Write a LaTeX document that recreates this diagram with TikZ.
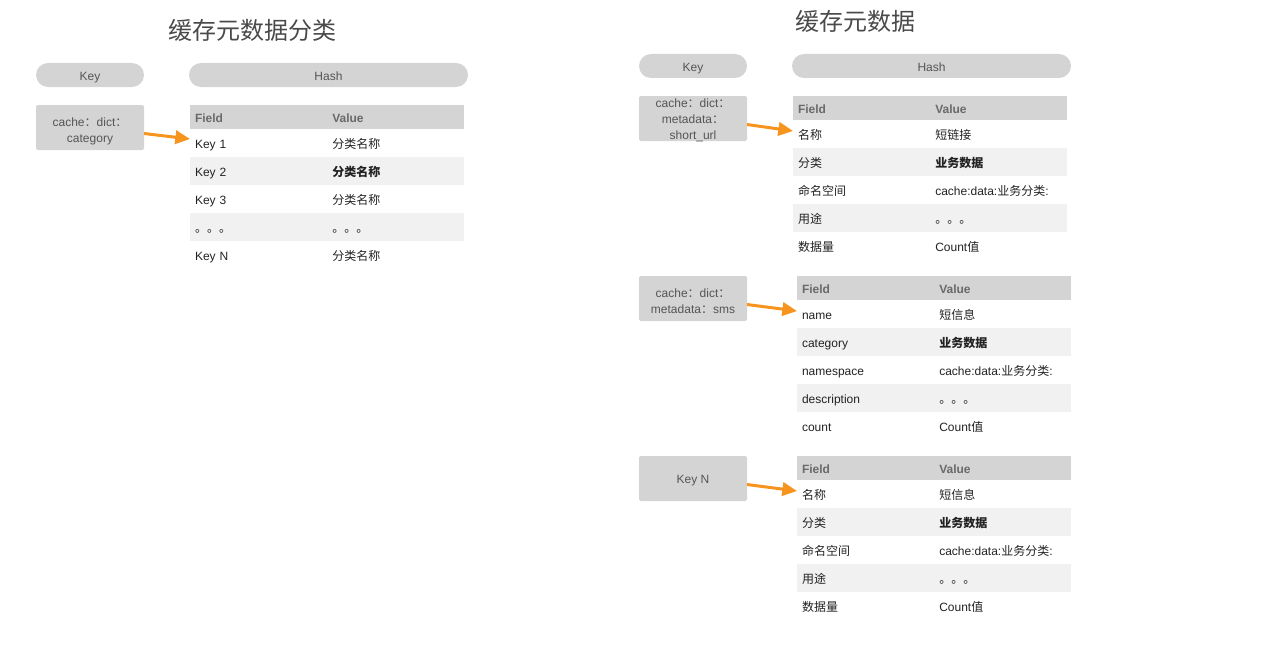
\documentclass[tikz,border=0pt]{standalone}
\usepackage{fontspec}
\setmainfont{Liberation Sans}
\newfontfamily\cjk{Noto Sans CJK SC}
\usetikzlibrary{positioning,arrows.meta,calc}

\begin{document}
\begin{tikzpicture}[x=0.75pt, y=-0.75pt, font=\fontsize{9}{12}\selectfont,
  >={Triangle[length=11pt, width=10pt]},
  title/.style={font=\cjk\fontsize{18}{22}\selectfont, text=ttltxt, inner sep=0pt},
  pill/.style={fill=band, rounded corners=9pt, minimum height=18pt, inner sep=0pt, outer sep=0pt, text=keytxt, anchor=north west, text height=9pt, text depth=1pt},
  keybox/.style={fill=band, rounded corners=1.5pt, minimum width=81pt, minimum height=33.75pt, inner sep=0pt, outer sep=0pt, align=center, text=keytxt, anchor=north west, text height=24pt, text depth=2pt},
  cell/.style={text width=198pt, inner xsep=3.75pt, inner ysep=0pt, outer sep=0pt, align=left, text height=9.5pt, text depth=1pt},
  hdr/.style={cell, fill=band, minimum height=18pt, text=hdrtxt, font=\fontsize{9}{12}\selectfont\bfseries, anchor=north west},
  row/.style={cell, minimum height=21pt, text=body},
  alt/.style={row, fill=light},
  val/.style={anchor=west, inner sep=0pt, text=body, text height=9.5pt, text depth=1pt},
  hval/.style={val, text=hdrtxt, font=\fontsize{9}{12}\selectfont\bfseries},
  arr/.style={->, draw=orng, line width=2.25pt},
]
\definecolor{band}{HTML}{D4D4D4}
\definecolor{light}{HTML}{F1F1F1}
\definecolor{keytxt}{HTML}{555555}
\definecolor{hdrtxt}{HTML}{6A6A6A}
\definecolor{body}{HTML}{222222}
\definecolor{orng}{HTML}{F7941D}
\definecolor{ttltxt}{HTML}{4A4A4A}
\useasboundingbox (0,0) rectangle (1280,660);

% ---------------- 缓存元数据分类 ----------------
\node[title] (ttl1) at (252,30) {缓存元数据分类};
\node[pill, minimum width=81pt]     (key1)  at (36,63)  {Key};
\node[pill, minimum width=209.25pt] (hash1) at (189,63) {Hash};
\node[keybox] (kb1) at (36,105) {cache{\cjk ：}dict{\cjk ：}\\category};
\node[hdr] (t1h) at (190,105) {Field};
\node[hval] (t1hv) at ($(t1h.west)+(142,0)$) {Value};
\node[row, below=0pt of t1h]  (t1r1) {Key 1};
\node[val] (t1v1) at ($(t1r1.west)+(142,0)$) {\cjk 分类名称};
\node[alt, below=0pt of t1r1] (t1r2) {Key 2};
\node[val] (t1v2) at ($(t1r2.west)+(142,0)$) {\cjk\bfseries 分类名称};
\node[row, below=0pt of t1r2] (t1r3) {Key 3};
\node[val] (t1v3) at ($(t1r3.west)+(142,0)$) {\cjk 分类名称};
\node[alt, below=0pt of t1r3] (t1r4) {\cjk 。。。};
\node[val] (t1v4) at ($(t1r4.west)+(142,0)$) {\cjk 。。。};
\node[row, below=0pt of t1r4] (t1r5) {Key N};
\node[val] (t1v5) at ($(t1r5.west)+(142,0)$) {\cjk 分类名称};
\draw[arr] ($(kb1.east)+(0,6)$) -- ($(t1r1.west)+(0,-4)$);

% ---------------- 缓存元数据 ----------------
\node[title] (ttl2) at (855,21) {缓存元数据};
\node[pill, minimum width=81pt]     (key2)  at (639,54) {Key};
\node[pill, minimum width=209.25pt] (hash2) at (792,54) {Hash};

% short_url
\node[keybox, text height=32pt, text depth=-4pt] (kb2) at (639,96) {cache{\cjk ：}dict{\cjk ：}\\metadata{\cjk ：}\\short\_url};
\node[hdr] (t2h) at (793,96) {Field};
\node[hval] (t2hv) at ($(t2h.west)+(142,0)$) {Value};
\node[row, below=0pt of t2h]  (t2r1) {\cjk 名称};
\node[val] (t2v1) at ($(t2r1.west)+(142,0)$) {\cjk 短链接};
\node[alt, below=0pt of t2r1] (t2r2) {\cjk 分类};
\node[val] (t2v2) at ($(t2r2.west)+(142,0)$) {\cjk\bfseries 业务数据};
\node[row, below=0pt of t2r2] (t2r3) {\cjk 命名空间};
\node[val] (t2v3) at ($(t2r3.west)+(142,0)$) {cache:data:{\cjk 业务分类}:};
\node[alt, below=0pt of t2r3] (t2r4) {\cjk 用途};
\node[val] (t2v4) at ($(t2r4.west)+(142,0)$) {\cjk 。。。};
\node[row, below=0pt of t2r4] (t2r5) {\cjk 数据量};
\node[val] (t2v5) at ($(t2r5.west)+(142,0)$) {Count{\cjk 值}};
\draw[arr] ($(kb2.east)+(0,6)$) -- ($(t2r1.west)+(0,-3)$);

% sms
\node[keybox] (kb3) at (639,276) {cache{\cjk ：}dict{\cjk ：}\\metadata{\cjk ：}sms};
\node[hdr] (t3h) at (797,276) {Field};
\node[hval] (t3hv) at ($(t3h.west)+(142,0)$) {Value};
\node[row, below=0pt of t3h]  (t3r1) {name};
\node[val] (t3v1) at ($(t3r1.west)+(142,0)$) {\cjk 短信息};
\node[alt, below=0pt of t3r1] (t3r2) {category};
\node[val] (t3v2) at ($(t3r2.west)+(142,0)$) {\cjk\bfseries 业务数据};
\node[row, below=0pt of t3r2] (t3r3) {namespace};
\node[val] (t3v3) at ($(t3r3.west)+(142,0)$) {cache:data:{\cjk 业务分类}:};
\node[alt, below=0pt of t3r3] (t3r4) {description};
\node[val] (t3v4) at ($(t3r4.west)+(142,0)$) {\cjk 。。。};
\node[row, below=0pt of t3r4] (t3r5) {count};
\node[val] (t3v5) at ($(t3r5.west)+(142,0)$) {Count{\cjk 值}};
\draw[arr] ($(kb3.east)+(0,6)$) -- ($(t3r1.west)+(0,-3)$);

% Key N
\node[keybox, text height=7pt, text depth=0pt] (kb4) at (639,456) {Key N};
\node[hdr] (t4h) at (797,456) {Field};
\node[hval] (t4hv) at ($(t4h.west)+(142,0)$) {Value};
\node[row, below=0pt of t4h]  (t4r1) {\cjk 名称};
\node[val] (t4v1) at ($(t4r1.west)+(142,0)$) {\cjk 短信息};
\node[alt, below=0pt of t4r1] (t4r2) {\cjk 分类};
\node[val] (t4v2) at ($(t4r2.west)+(142,0)$) {\cjk\bfseries 业务数据};
\node[row, below=0pt of t4r2] (t4r3) {\cjk 命名空间};
\node[val] (t4v3) at ($(t4r3.west)+(142,0)$) {cache:data:{\cjk 业务分类}:};
\node[alt, below=0pt of t4r3] (t4r4) {\cjk 用途};
\node[val] (t4v4) at ($(t4r4.west)+(142,0)$) {\cjk 。。。};
\node[row, below=0pt of t4r4] (t4r5) {\cjk 数据量};
\node[val] (t4v5) at ($(t4r5.west)+(142,0)$) {Count{\cjk 值}};
\draw[arr] ($(kb4.east)+(0,6)$) -- ($(t4r1.west)+(0,-3)$);
\end{tikzpicture}
\end{document}
